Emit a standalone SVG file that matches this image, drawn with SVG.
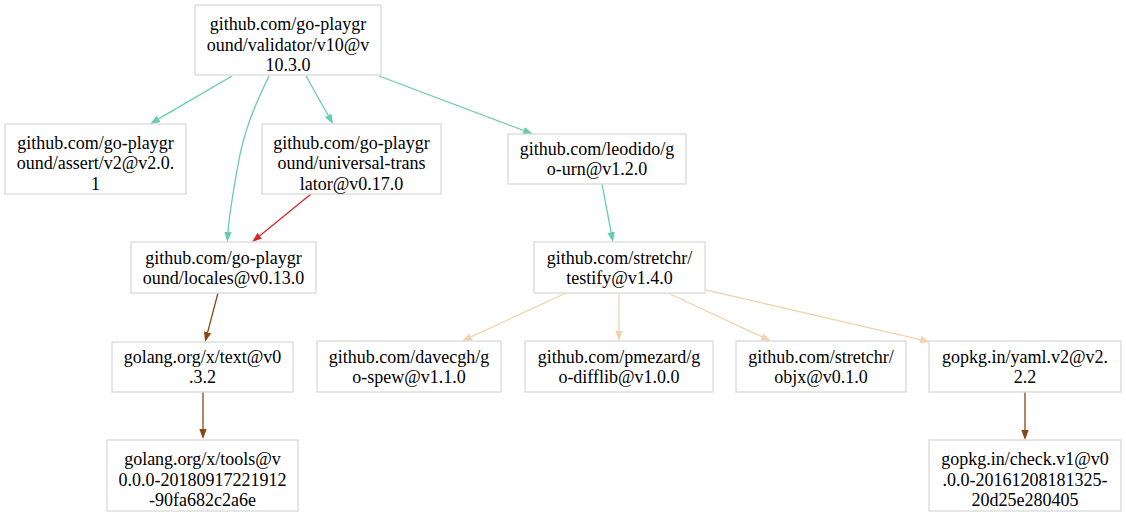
<svg xmlns="http://www.w3.org/2000/svg" width="1126" height="516" viewBox="0 0 1126 516">
<style>
.n rect{fill:#fff;stroke:#d9d9d9;stroke-width:1.3}
.n text{font-family:"Liberation Serif","Times New Roman",serif;font-size:18px;fill:#000;text-anchor:middle}
.e path{fill:none;stroke-width:1.3}
.g{stroke:#66cdaa}.r{stroke:#d42a2a}.b{stroke:#8b4513}.w{stroke:#f0d4b0}
</style>
<defs>
<marker id="ag" markerUnits="userSpaceOnUse" markerWidth="10" markerHeight="8" refX="0" refY="4" orient="auto"><path d="M0,0.3 L10,4 L0,7.7z" fill="#66cdaa"/></marker>
<marker id="ar" markerUnits="userSpaceOnUse" markerWidth="10" markerHeight="8" refX="0" refY="4" orient="auto"><path d="M0,0.3 L10,4 L0,7.7z" fill="#d42a2a"/></marker>
<marker id="ab" markerUnits="userSpaceOnUse" markerWidth="10" markerHeight="8" refX="0" refY="4" orient="auto"><path d="M0,0.3 L10,4 L0,7.7z" fill="#8b4513"/></marker>
<marker id="aw" markerUnits="userSpaceOnUse" markerWidth="10" markerHeight="8" refX="0" refY="4" orient="auto"><path d="M0,0.3 L10,4 L0,7.7z" fill="#f0d4b0"/></marker>
</defs>
<rect width="1126" height="516" fill="#fff"/>
<g id="edges" class="e">
<path class="g" d="M232,76 L158.6,118.9" marker-end="url(#ag)"/>
<path class="g" d="M306,76 L328.1,115.3" marker-end="url(#ag)"/>
<path class="g" d="M379,76 L523.6,130.5" marker-end="url(#ag)"/>
<path class="g" d="M269,76 C255,105 244,130 238,165 C232,198 229,218 228,232" marker-end="url(#ag)"/>
<path class="r" d="M311,194 L259.8,235.7" marker-end="url(#ar)"/>
<path class="b" d="M218,293 L207.6,332.3" marker-end="url(#ab)"/>
<path class="g" d="M602,184 L611.1,232.2" marker-end="url(#ag)"/>
<path class="w" d="M566,293 L471.1,336.8" marker-end="url(#aw)"/>
<path class="w" d="M619,293 L619,331" marker-end="url(#aw)"/>
<path class="w" d="M668,293 L761.9,336.8" marker-end="url(#aw)"/>
<path class="w" d="M706,290 L920.3,339.7" marker-end="url(#aw)"/>
<path class="b" d="M1025,392 L1025,430" marker-end="url(#ab)"/>
<path class="b" d="M203,392 L203,429" marker-end="url(#ab)"/>
</g>
<g id="validator" class="n"><rect x="195" y="5" width="186" height="70"/><text x="288" y="30">github.com/go-playgr</text><text x="288" y="50.5">ound/validator/v10@v</text><text x="288" y="71">10.3.0</text></g>
<g id="assert" class="n"><rect x="5" y="124" width="181" height="70"/><text x="95.5" y="148.5">github.com/go-playgr</text><text x="95.5" y="169">ound/assert/v2@v2.0.</text><text x="95.5" y="189.5">1</text></g>
<g id="universal" class="n"><rect x="262" y="124" width="179" height="70"/><text x="351.5" y="148.5">github.com/go-playgr</text><text x="351.5" y="169">ound/universal-trans</text><text x="351.5" y="189.5">lator@v0.17.0</text></g>
<g id="leodido" class="n"><rect x="508" y="134" width="178" height="50"/><text x="597" y="155">github.com/leodido/g</text><text x="597" y="175">o-urn@v1.2.0</text></g>
<g id="locales" class="n"><rect x="131" y="242" width="185" height="51"/><text x="223.5" y="263.5">github.com/go-playgr</text><text x="223.5" y="283.5">ound/locales@v0.13.0</text></g>
<g id="testify" class="n"><rect x="534" y="242" width="171" height="51"/><text x="619.5" y="263.5">github.com/stretchr/</text><text x="619.5" y="283.5">testify@v1.4.0</text></g>
<g id="text" class="n"><rect x="112" y="342" width="181" height="50"/><text x="202.5" y="363">golang.org/x/text@v0</text><text x="202.5" y="383">.3.2</text></g>
<g id="davecgh" class="n"><rect x="317" y="341" width="184" height="51"/><text x="409" y="362.5">github.com/davecgh/g</text><text x="409" y="382.5">o-spew@v1.1.0</text></g>
<g id="pmezard" class="n"><rect x="525" y="341" width="188" height="51"/><text x="619" y="362.5">github.com/pmezard/g</text><text x="619" y="382.5">o-difflib@v1.0.0</text></g>
<g id="objx" class="n"><rect x="736" y="341" width="170" height="51"/><text x="821" y="362.5">github.com/stretchr/</text><text x="821" y="382.5">objx@v0.1.0</text></g>
<g id="yaml" class="n"><rect x="929" y="341" width="192" height="51"/><text x="1025" y="362.5">gopkg.in/yaml.v2@v2.</text><text x="1025" y="382.5">2.2</text></g>
<g id="tools" class="n"><rect x="107" y="440" width="191" height="71"/><text x="202.5" y="465">golang.org/x/tools@v</text><text x="202.5" y="485.5">0.0.0-20180917221912</text><text x="202.5" y="506">-90fa682c2a6e</text></g>
<g id="check" class="n"><rect x="929" y="440" width="192" height="71"/><text x="1025" y="465">gopkg.in/check.v1@v0</text><text x="1025" y="485.5">.0.0-20161208181325-</text><text x="1025" y="506">20d25e280405</text></g>
</svg>
